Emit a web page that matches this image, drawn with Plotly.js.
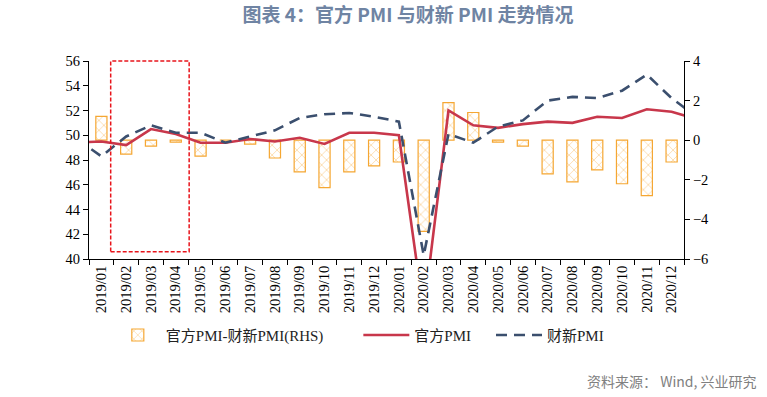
<!DOCTYPE html>
<html>
<head>
<meta charset="utf-8">
<script src="https://cdn.plot.ly/plotly-3.0.1.min.js"></script>
<style>html,body{margin:0;padding:0;background:#fff;}#chart{width:767px;height:397px;}</style>
</head>
<body>
<div id="chart"></div>
<script>
// Months (first and last are only partly visible at the plot edges)
const months = ["2018/12","2019/01","2019/02","2019/03","2019/04","2019/05","2019/06","2019/07","2019/08","2019/09","2019/10","2019/11","2019/12","2020/01","2020/02","2020/03","2020/04","2020/05","2020/06","2020/07","2020/08","2020/09","2020/10","2020/11","2020/12","2021/01"];
const officialPMI = [49.4,49.5,49.2,50.5,50.1,49.4,49.4,49.7,49.5,49.8,49.3,50.2,50.2,50.0,35.7,52.0,50.8,50.6,50.9,51.1,51.0,51.5,51.4,52.1,51.9,51.3];
const caixinPMI   = [49.7,48.3,49.9,50.8,50.2,50.2,49.4,49.9,50.4,51.4,51.7,51.8,51.5,51.1,40.3,50.1,49.4,50.7,51.2,52.8,53.1,53.0,53.6,54.9,53.0,51.5];
const spreadRHS   = [null,1.2,-0.7,-0.3,-0.1,-0.8,0.0,-0.2,-0.9,-1.6,-2.4,-1.6,-1.3,-1.1,-4.6,1.9,1.4,-0.1,-0.3,-1.7,-2.1,-1.5,-2.2,-2.8,-1.1,null];
const tickMonths = months.slice(1, 25);
const seriesNames = ["官方PMI-财新PMI(RHS)", "官方PMI", "财新PMI"];

const serif = "Liberation Serif, 'Times New Roman', 'Noto Sans CJK SC', serif";
const orange = "#F5A733";

const traces = [
  {
    type: "bar", name: seriesNames[0] + "\u00a0".repeat(8), x: months, y: spreadRHS,
    xaxis: "x", yaxis: "y", width: 0.45,
    marker: {color: "#ffffff", line: {color: orange, width: 1.2},
      pattern: {shape: "x", fgcolor: orange, bgcolor: "#ffffff", size: 7, solidity: 0.2, fillmode: "overlay"}}
  },
  {
    type: "scatter", mode: "lines", name: seriesNames[1] + "\u00a0".repeat(4), x: months, y: officialPMI,
    xaxis: "x", yaxis: "y2", line: {color: "#C8374B", width: 2.6}
  },
  {
    type: "scatter", mode: "lines", name: seriesNames[2], x: months, y: caixinPMI,
    xaxis: "x", yaxis: "y2", line: {color: "#3B4F6E", width: 2.6, dash: "11px,7px"}
  }
];

const layout = {
  width: 767, height: 397,
  margin: {l: 89, r: 83, t: 61, b: 138},
  paper_bgcolor: "#ffffff", plot_bgcolor: "#ffffff",
  title: {
    text: "<b>图表 4：官方 PMI 与财新 PMI 走势情况</b>",
    font: {family: "'Noto Sans CJK SC', sans-serif", size: 19, color: "#6F84A3"},
    x: 0.532, xanchor: "center", xref: "container", y: 0.962, yanchor: "middle", yref: "container"
  },
  showlegend: true,
  legend: {
    orientation: "h", x: 0.035, xanchor: "left", y: -0.385, yanchor: "middle",
    font: {family: serif, size: 15, color: "#222"}, itemwidth: 46, traceorder: "normal"
  },
  xaxis: {
    type: "category", categoryorder: "array", categoryarray: months,
    range: [0.5, 24.5], tickvals: tickMonths, ticktext: tickMonths,
    tickangle: -90, tickson: "boundaries", ticks: "outside", ticklen: 5, tickcolor: "#000",
    showline: true, linecolor: "#000", linewidth: 1, showgrid: false, zeroline: false,
    tickfont: {family: serif, size: 14.5, color: "#000"}
  },
  yaxis: {
    side: "right", range: [-6, 4], dtick: 2, tick0: 0,
    ticks: "outside", ticklen: 5, tickcolor: "#000",
    showline: true, linecolor: "#000", linewidth: 1, showgrid: false, zeroline: false,
    tickfont: {family: serif, size: 14.5, color: "#000"}
  },
  yaxis2: {
    overlaying: "y", side: "left", range: [40, 56], dtick: 2,
    ticks: "outside", ticklen: 5, tickcolor: "#000",
    showline: true, linecolor: "#000", linewidth: 1, showgrid: false, zeroline: false,
    tickfont: {family: serif, size: 14.5, color: "#000"}
  },
  shapes: [{
    type: "rect", xref: "x", yref: "paper", x0: 1.375, x1: 4.54, y0: 0.037, y1: 1.0,
    line: {color: "#E8141B", width: 1.5, dash: "4px,2px"}, fillcolor: "rgba(0,0,0,0)"
  }],
  annotations: [{
    text: "资料来源： Wind, 兴业研究", xref: "paper", yref: "paper",
    x: (759 - 89) / 595, xanchor: "right", y: (259 - 381) / 198, yanchor: "middle",
    showarrow: false, font: {family: "'Noto Sans CJK SC', sans-serif", size: 14, color: "#808080"}
  }]
};

Plotly.newPlot("chart", traces, layout, {displayModeBar: false, staticPlot: true});
</script>
</body>
</html>
